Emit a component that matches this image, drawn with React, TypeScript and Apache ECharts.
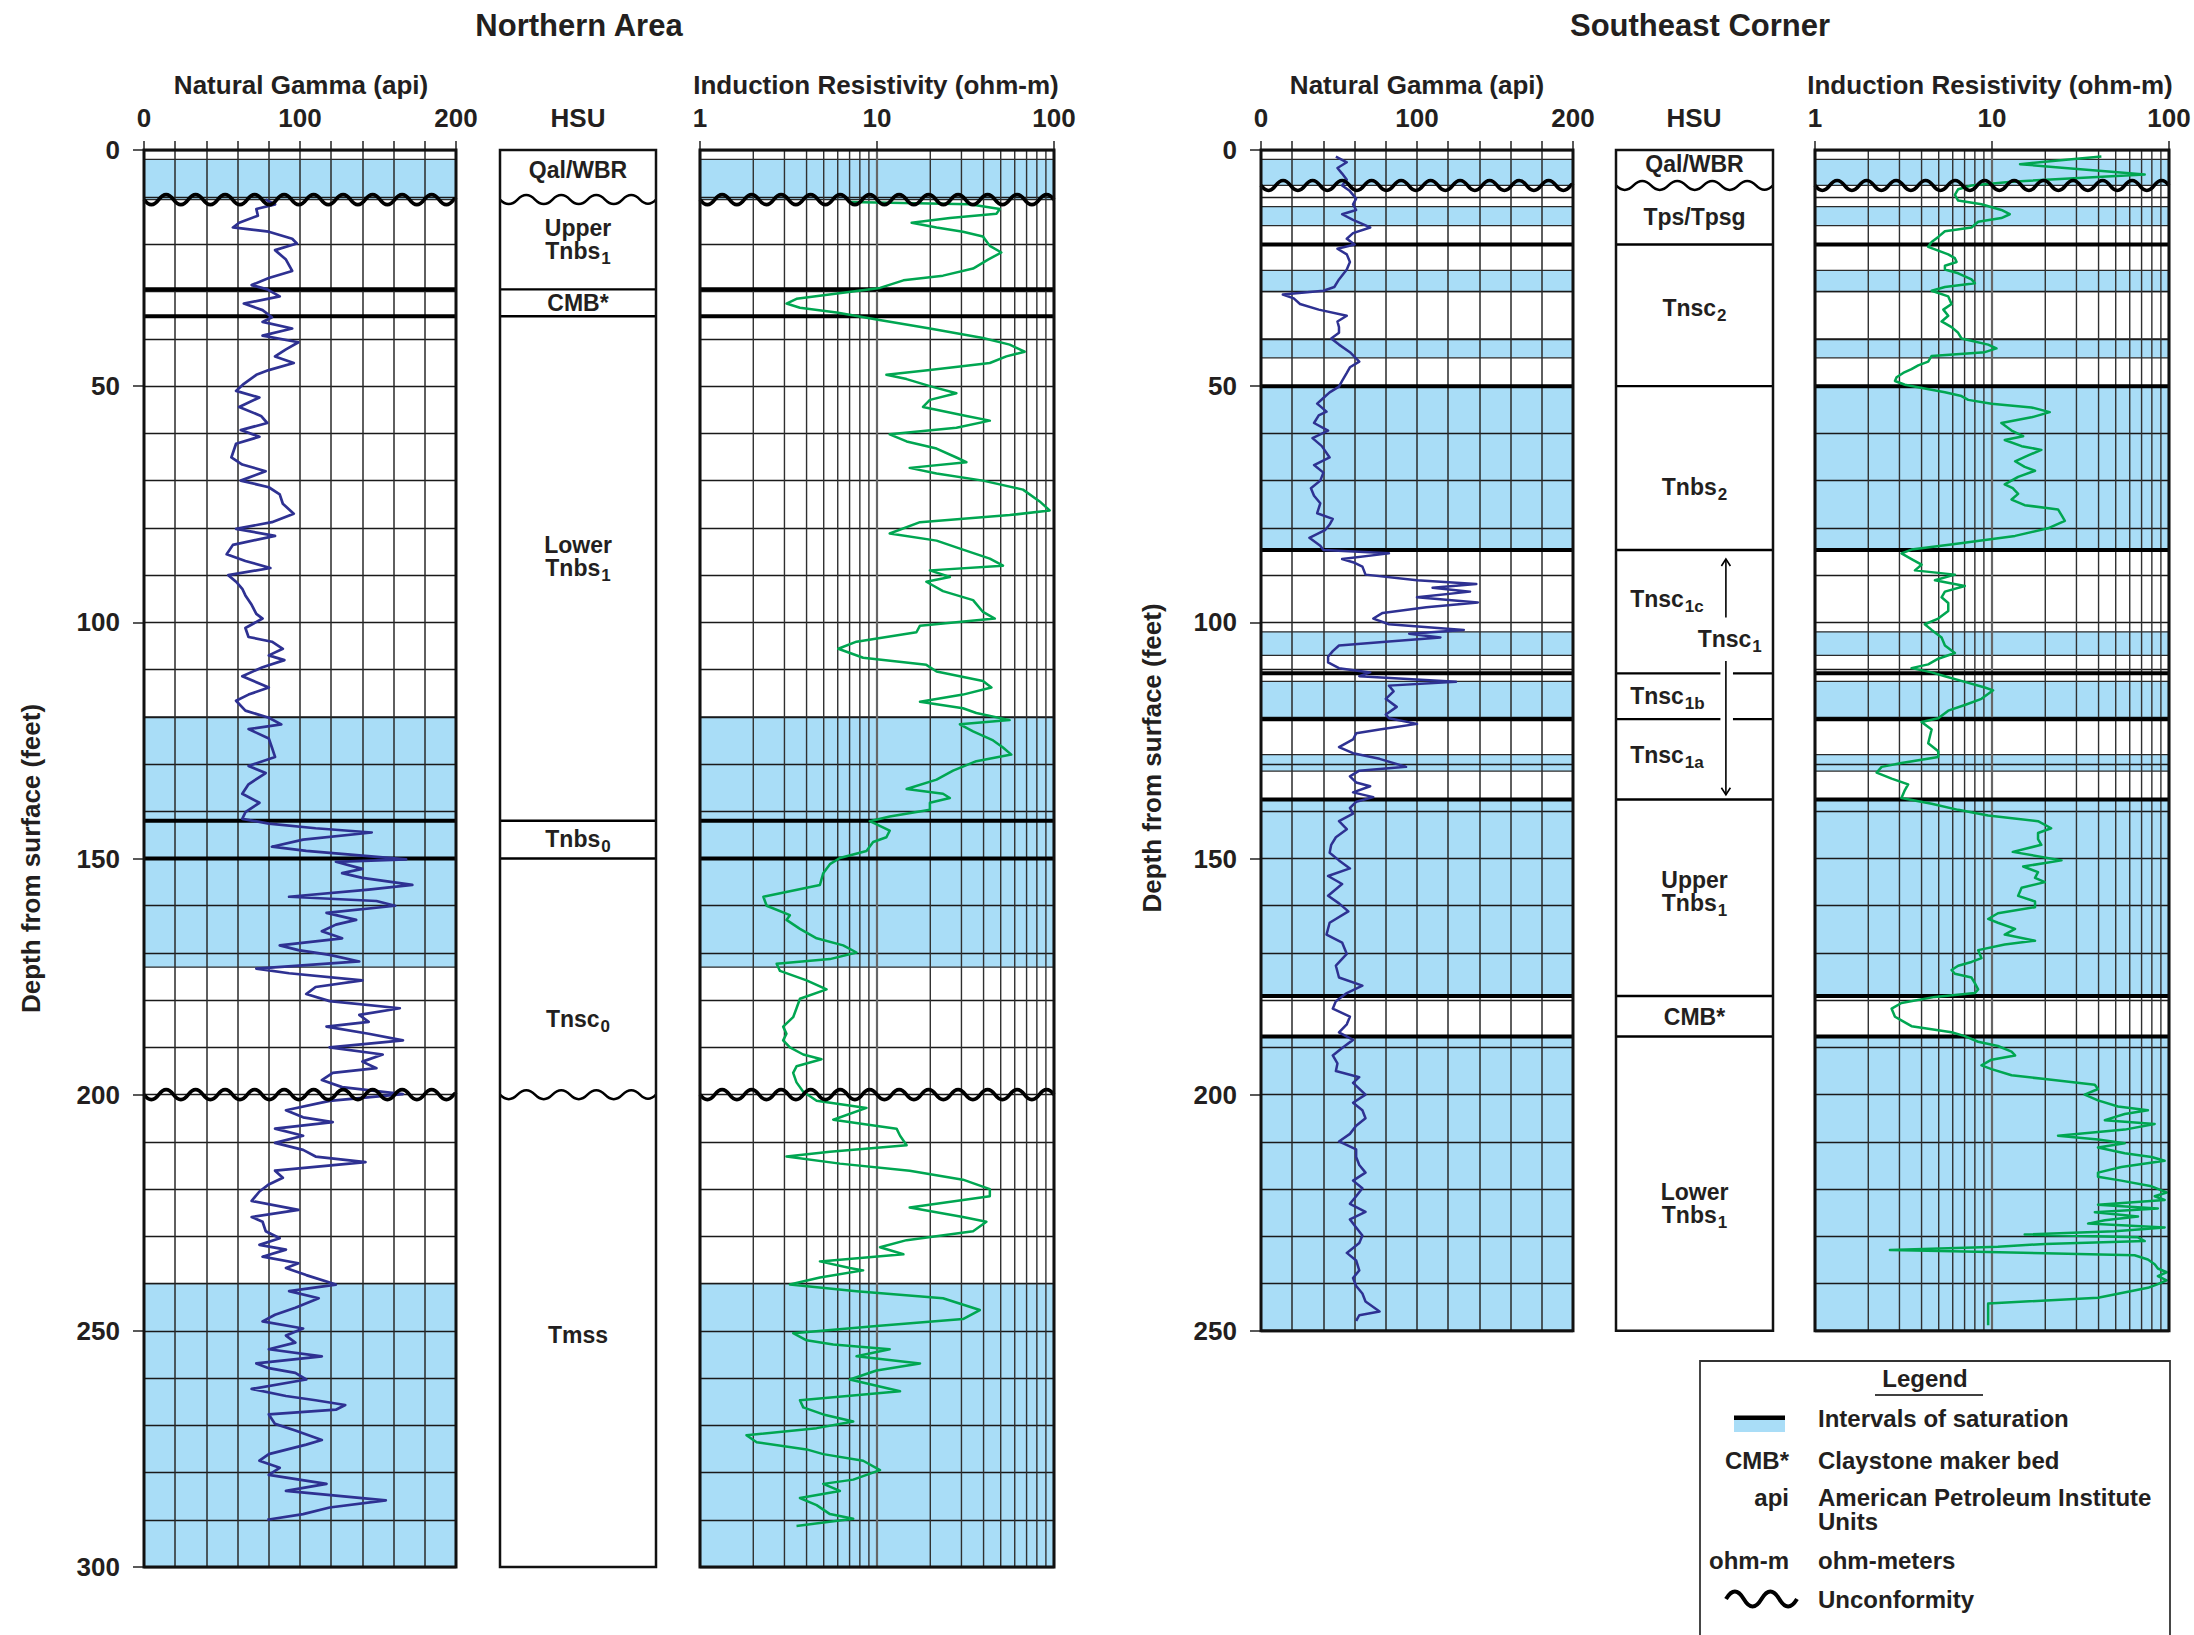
import React, { useEffect, useRef } from 'react';
import * as echarts from 'echarts';

const FONT = '"Liberation Sans", Arial, Helvetica, sans-serif';
const INK = '#231f20';
const SAT_BLUE = '#a9ddf7';
const GAMMA_BLUE = '#2e3192';
const RES_GREEN = '#00a651';

// ---------------- Northern Area ----------------
const naDepthMax = 300;
// [depth ft, natural gamma api]
const naGamma: number[][] = [
  [10.5,78],[11.5,84],[12.5,72],[13.9,73],[15.4,61],[16.4,57],[17.3,80],[18.8,95],[19.8,98],[21.2,84],[23.2,91],[25.6,95],[27.1,80],[28.6,69],[29.5,79],[31,87],[32.5,64],[33.9,76],[35.4,82],[36.4,76],[37.8,95],[39.3,76],[40.7,99],[42.2,91],[43.7,84],[45.1,96],[46.6,80],[47.6,72],[49.5,64],[51,59],[52.4,74],[54.4,61],[56.3,75],[57.8,79],[59.3,62],[60.7,74],[62.2,59],[65.1,56],[66.6,63],[68,78],[70,62],[71.4,80],[72.9,87],[74.9,89],[77,96],[78.8,82],[80.2,59],[81.7,84],[83.6,57],[85.6,53],[87,65],[88.5,81],[90,54],[91.4,59],[92.9,63],[94.3,65],[96.3,69],[98.2,72],[99.2,76],[101.2,65],[103.1,67],[104.1,82],[105.6,89],[107,80],[108,90],[109.5,76],[111.4,63],[113.8,80],[115.3,67],[116.6,59],[118.7,65],[120.2,80],[121.6,88],[122.6,67],[124.6,80],[126.5,82],[128.5,84],[130.4,67],[131.9,78],[134.3,67],[136.3,63],[138.2,74],[140.2,65],[141.6,63],[142.6,80],[143.6,110],[144.5,146],[146,102],[147.5,82],[148.4,104],[149.4,140],[150.2,168],
  [150.7,123],[152.2,140],[153.1,127],[154.1,140],[155.6,172],[156.6,144],[158.1,93],[159,149],[160,161],[161.5,117],[163,136],[164,123],[165.4,114],[166.9,127],[168.4,87],[169.4,99],[170.4,119],[171.8,138],[173.3,72],[174.3,93],[175.8,140],[177.2,110],[178.7,104],[180.2,119],[181.7,164],[183.1,138],[184.6,144],[185.6,117],[187.1,144],[188.5,166],[190,119],[191.5,153],[193,140],[194.4,149],[195.4,121],[196.9,114],[198.4,127],[199.9,166],[201.3,119],[203.3,91],[204.8,102],[205.8,121],[207.2,84],[208.7,102],[210.2,84],[211.7,102],[213.1,110],[214.3,142],[216.1,84],[217.6,89],[219,80],[220.5,74],[222.5,69],[224.4,99],[225.9,69],[226.9,76],[228.9,78],[230.4,87],[231.8,74],[232.8,91],[234.3,76],[235.7,99],[236.7,91],[238.2,104],[240.2,123],[241.6,93],[243.1,112],[245.1,97],[246.6,84],[248,76],[249.5,102],[251,91],[252.5,97],[253.9,80],[255.4,114],[256.9,72],[257.9,80],[258.9,97],[260.3,104],[262.3,69],[263.8,91],[264.7,110],[265.7,129],[266.7,123],[267.7,80],[269.7,84],[271.1,97],[273.1,114],[274.1,104],[276.1,80],[277.5,74],[279,87],[280.5,80],[282.4,117],[283.9,91],[284.9,123],[285.9,155],[287.4,119],[288.8,102],[290,79]
];
// [depth ft, induction resistivity ohm-m]
const naRes: number[][] = [
  [11,7.0],[11.5,33.4],[12.5,49.4],[13.5,47.3],[14.4,25.8],[15.4,15.7],[16.4,21.7],[17.3,30.6],[18.3,39.7],[19.3,41.5],[20.3,43.4],[21.7,50.4],[23.2,42.4],[25.1,34.9],[26.6,23.6],[27.6,14.1],[29.2,10.4],[30.5,5.66],[31.5,3.51],[32.5,3.08],[33.4,3.67],[34.4,5.91],[35.9,9.94],[37.8,19.9],[39.8,39.7],[41.2,56.2],[42.7,68.3],[43.7,53.8],[45.1,43.4],[46.6,19.9],[47.6,11.3],[48.5,14.7],[50,19.9],[51.5,28.1],[52.9,19.9],[54.4,18.2],[56.3,32],[57.3,43.4],[58.8,28.1],[60.2,11.8],[61.7,14.7],[63.2,21.7],[65.1,28.1],[66.1,32],[67.3,15.3],[68.5,21.7],[70,39.7],[71.9,66.8],[74.4,83],[76.3,94.5],[77.3,56.2],[78.8,17.5],[81.2,11.8],[82.7,21.7],[84.6,30.6],[86.5,43.4],[88,51.5],[89,19.9],[90.4,25.8],[91.4,19],[93.4,23.6],[95.3,34.9],[97.8,39.7],[99.2,46.3],[100.7,17.5],[102.1,16.7],[104.1,7.66],[105.6,6.04],[107.5,8.35],[109,19],[110.4,21.7],[112.4,39.7],[113.8,44.3],[115.3,30.6],[116.8,17.5],[118.2,30.6],[119.2,36.4],[120.7,56.2],[121.6,29.4],[123.1,34.9],[125,45.3],[126.5,51.5],[128,57.4],[129.4,36.4],[131.4,26.9],[133.3,21.7],[135.3,14.7],[136.3,23.6],[137.2,25.8],[138.2,19.9],[139.7,19.9],[141.1,11.8],[142.1,9.11],[144.1,11.8],[145.5,11.3],[146.5,9.51],[148.4,8.72],[149.9,6.17],
  [151.2,5.42],[153.1,4.97],[155.6,4.76],[158.1,2.28],[160,2.38],[162,3.22],[163,3.08],[164.9,3.67],[166.9,4.56],[168.4,6.44],[169.9,7.66],[171.3,5.42],[172.3,2.71],[173.8,2.83],[175.8,4.0],[177.7,5.19],[179.7,3.67],[181.7,3.51],[183.6,3.36],[185.6,2.95],[187.1,3.08],[188.5,2.95],[190,3.22],[191.5,3.83],[192.5,4.86],[194,3.51],[195.4,3.36],[197.4,3.51],[199.4,3.83],[201.3,4.56],[202.8,8.72],[205.3,5.66],[207.2,12.9],[208.7,13.5],[210.7,14.7],[212.1,5.42],[213.1,3.08],[214.6,6.17],[216.1,15.3],[218,30.6],[220,43.4],[221.5,43.4],[223.9,15.3],[225.9,30.6],[226.9,41.5],[228.9,34.9],[230.8,14.7],[232.3,10.4],[233.8,14.1],[235.3,4.76],[236.7,7.02],[237.2,8.35],[238.7,4.76],[240.2,3.22],[241.6,7.66],[243.1,23.6],[245.6,38.1],[247.5,30.6],[249,9.94],[250.5,3.36],[252,4.0],[252.9,5.66],[253.9,11.8],[255.4,7.66],[256.9,17.5],[258.4,9.94],[260.3,7.02],[262.8,13.5],[264.7,3.67],[266.2,3.83],[267.7,4.97],[269.2,7.34],[270.6,4.56],[272.1,1.83],[273.6,2.09],[275.1,4.0],[276.1,4.97],[277.5,8.35],[279.5,10.4],[281.5,7.34],[282.4,4.97],[283.9,6.17],[285.4,3.67],[286.9,4.56],[288.8,5.42],[289.8,7.34],[291.3,3.51]
];
const naSaturation: number[][] = [[2, 10.5], [120, 173], [240, 300]];
const naContacts: number[] = [29.5, 35.2, 142, 150];
const naUnconformities: number[] = [10.5, 200];
const naHsuNames: string[] = ['Qal/WBR', 'Upper\nTnbs_1', 'CMB*', 'Lower\nTnbs_1', 'Tnbs_0', 'Tnsc_0', 'Tmss'];
const naHsuDepths: number[] = [4.2, 19, 32.3, 86, 145.8, 184, 250.8];

// ---------------- Southeast Corner ----------------
const seDepthMax = 250;
const seGamma: number[][] = [
  [1.4,48],[2.6,55],[3.8,49],[5,52],[6.3,55],[7.5,52],[8.7,57],[10.3,61],[11.5,59],[12.7,61],[13.6,52],[14.8,59],[16.4,70],[17.6,59],[18.8,55],[20,60],[20.9,49],[22.1,55],[23.7,57],[25.3,55],[27.4,50],[29,47],[29.8,40],[30.6,14],[31.4,21],[32.6,25],[33.8,37],[35.1,55],[36.3,49],[37.5,50],[38.7,50],[39.9,45],[41.2,50],[42.8,57],[44.8,63],[46,57],[47.2,55],[48.9,52],[50.1,50],[51.3,44],[52.5,40],[53.7,36],[55.4,42],[56.2,37],[57.8,34],[59.4,43],[61,33],[62.7,39],[65.1,44],[66.7,34],[68.3,40],[70,38],[71.6,32],[73.2,34],[74.8,38],[76.9,36],[78.1,46],[79.3,44],[80.5,41],[82.1,31],[83.8,38],[84.7,40],[85.4,82],[86.6,52],[87.4,60],[88.2,65],[89.9,67],[91.1,100],[91.9,138],[92.7,110],[93.5,134],[94.7,100],[95.8,139],[96.8,106],[98,78],[99.2,72],[100.4,82],[101.6,130],[102.4,95],[103.2,115],[104.1,80],[104.9,50],[106.1,46],[107.3,43],[108.5,43],[109.7,50],[110.6,70],[111.4,63],[112.6,125],[113.4,82],[114.6,85],[116.2,80],[117.9,87],[119.5,80],[120.3,82],[121.5,100],[122.7,76],[123.5,61],
  [124.8,59],[126.4,50],[127.7,59],[128.9,76],[130.6,93],[131.4,63],[132.6,57],[133.9,61],[134.7,70],[136,59],[137,72],[138,61],[139.3,57],[140.5,59],[142.1,50],[143.8,55],[145.5,48],[147.1,45],[148.8,44],[150.4,50],[152.1,57],[153.7,43],[155.4,52],[157.9,43],[159.5,50],[161.2,56],[163.6,44],[166.1,42],[167.8,52],[170.2,55],[172.7,48],[175.2,50],[176.9,65],[178.5,55],[180.2,48],[181.8,46],[183.5,57],[185.1,55],[186.8,50],[188.4,59],[190.1,52],[191.7,46],[193.4,49],[195,48],[196.3,63],[197.5,59],[200,67],[201.7,59],[203.3,65],[205,67],[206.6,61],[208.3,57],[209.9,50],[211.6,61],[213.2,61],[214.9,63],[216.5,67],[218.2,59],[219.8,65],[221.5,61],[223.1,57],[224.8,67],[226.4,57],[228.1,61],[229.8,65],[231.4,63],[233.5,55],[235.1,61],[237.2,63],[238.8,59],[240.5,61],[242.1,65],[243.8,67],[245.9,76],[246.7,63],[247.9,61]
];
const seRes: number[][] = [
  [1.4,41.5],[2.2,23.6],[3,14.4],[3.8,25.8],[4.6,47.3],[5.2,72.9],[5.8,34.9],[6.7,12.9],[7.5,7.66],[8.3,6.44],[9.5,6.17],[10.7,6.44],[11.5,8.72],[12.7,11.3],[13.6,12.6],[14.4,11.3],[15.2,8.35],[16.4,7.66],[17.2,5.42],[18.4,4.97],[19.5,4.56],[20.5,4.36],[21.3,4.97],[22.1,5.66],[22.9,6.17],[23.7,6.31],[24.5,5.42],[25.3,5.42],[26.1,6.44],[27.4,7.66],[28.2,8.0],[29,5.42],[29.8,4.56],[31,5.66],[32.6,5.91],[33.8,5.31],[35.1,5.66],[36.3,5.19],[37.5,5.91],[38.7,6.44],[39.9,6.72],[41.2,9.51],[42,10.6],[42.8,9.11],[43.6,4.56],[44.8,4.36],[45.6,3.83],[46.4,3.51],[47.2,3.15],[48.1,2.89],[48.9,2.83],[49.7,3.22],[50.5,4.17],[51.3,5.42],[52.1,6.72],[52.9,7.34],[53.7,9.94],[54.5,16.7],[55.5,21.2],[56.6,16.7],[57.8,11.3],[59.4,12.9],[60.6,15],[61.4,11.8],[62.7,14.7],[63.5,19],[64.7,15.9],[65.9,13.5],[67.1,15.3],[67.9,17.5],[69.2,14.05],[70.8,11.8],[71.6,13.1],[72.8,14.05],[74,12.9],[75.2,15.3],[76.1,23.6],[77.3,24.7],[78.5,25.8],[80.1,20.7],[81.7,13.5],[83.4,6.17],[84.6,3.51],[85.4,3.08],[86.6,3.51],[87.8,4.0],[89,3.67],[89.9,6.17],[91.1,4.76],[92.3,7.02],[93.5,5.42],[94.7,5.19],[95.9,5.66],[97.6,5.66],[99.2,4.97],[100.4,4.17],[101.6,4.56],[103.2,5.19],[104.9,5.42],[106.5,6.17],[107.7,4.97],[108.9,4.36],[109.7,3.51],[110.6,4.56],[111.4,5.42],[112.6,7.02],[113.8,9.11],[114.4,10.15],[116.2,8.72],[117.5,7.02],[118.7,5.66],[120.3,4.97],[121.1,4.0],[122.7,4.56],[125.6,4.36],[127.3,4.97],[128.5,4.97],[129.8,3.08],[130.6,2.38],[131.8,2.23],[133.1,2.71],[134.3,3.36],[135.5,3.22],[137.2,3.08],[138.4,4.56],[139.7,6.44],[140.9,9.51],[142.1,18.2],[143.6,21.6],[144.6,18.2],[145.9,18.2],[147.1,19],[148.6,13.1],[150.4,24.7],[151.7,15],[152.9,18.2],[154.1,17.5],[155,19.9],[156.2,14.7],[157.9,14.05],[159.1,17.5],[160.3,17.5],[161.6,10.8],[162.8,9.51],[163.6,10.8],[164.9,13.5],[166.1,11.8],[167.4,17.5],[168.2,11.8],[169.4,8.35],[171.1,8.72],[171.9,7.66],[172.7,6.44],[173.6,5.91],[174.4,6.17],[175.2,7.66],[176.4,8],[177.7,8.35],[178.5,8],[179.3,4.76],[180.6,3.08],[181.8,2.71],[183.5,2.83],[184.7,3.22],[185.5,3.51],[186.8,5.91],[187.6,7.02],[188.8,8.35],[189.7,10.8],[190.9,12.9],[191.7,13.5],[192.6,9.94],[193.8,8.72],[194.6,9.94],[195.9,12.9],[196.7,19.9],[197.9,38.1],[198.8,39.7],[200,33.4],[201.2,39.7],[202.5,51.5],[203.3,76],[204.1,56.2],[205.4,43.4],[206.2,83],[207.4,56.2],[208.7,23.6],[209.5,39.7],[210.3,56.2],[211.2,39.7],[212.4,56.2],[213.2,79.7],[214,94.5],[215.3,53.8],[216.5,39.7],[217.4,39.7],[218.2,53.8],[219.4,79.7],[220.7,97],[221.5,83],[222.3,94.5],[223.3,39.7],[224.1,86.5],[224.9,38.1],[225.8,66.8],[226.6,43.4],[227.3,34.9],[228.1,94.5],[228.9,49.4],[229.6,15.3],[230.2,66.8],[231,72.9],[231.6,19.9],[232.2,10.8],[232.9,2.65],[233.2,7.02],[233.6,19.9],[234,63.9],[234.9,76],[235.9,83],[236.8,86.5],[237.6,97],[238.4,86.5],[239.3,97],[240.1,86.5],[240.9,76],[243,39.7],[244.2,9.51],[245.5,9.51],[248.8,9.51]
];
const seSaturation: number[][] = [[2, 7.5], [12, 16], [25.5, 30], [40, 44], [50, 84.7], [102, 107], [112.5, 120.5], [128, 131.5], [137.5, 179.1], [187.7, 250]];
const seContacts: number[] = [20, 50, 84.7, 110.8, 120.5, 137.5, 179.1, 187.7];
const seContactBroken: boolean[] = [false, false, false, true, true, false, false, false];
const seUnconformities: number[] = [7.5];
const seHsuNames: string[] = ['Qal/WBR', 'Tps/Tpsg', 'Tnsc_2', 'Tnbs_2', 'Tnsc_1c', 'Tnsc_1', 'Tnsc_1b', 'Tnsc_1a', 'Upper\nTnbs_1', 'CMB*', 'Lower\nTnbs_1'];
const seHsuDepths: number[] = [3, 14.2, 33.5, 71.4, 95, 103.6, 115.5, 128, 157, 183.6, 223];
// Tnsc1 arrow: [x (column fraction), from depth, to depth, head(-1 top / 1 bottom)]
const seArrowSegments: number[][] = [[0.70, 86.6, 99.0, -1], [0.70, 108.2, 136.5, 1]];

// ---------------- axis ticks ----------------
const gammaTickLabels: number[] = [0, 100, 200];
const resMinorLines: number[] = [2, 3, 4, 5, 6, 7, 8, 9, 20, 30, 40, 50, 60, 70, 80, 90];
const depthLabelStep = 50;

// ---------------- layout ----------------
const TOP = 150;
const PX_PER_FT = 1417 / 300;
const LAYOUT = {
  naGamma: { left: 144, width: 312 },
  naHsu: { left: 500, width: 156 },
  naRes: { left: 700, width: 354 },
  seGamma: { left: 1261, width: 312 },
  seHsu: { left: 1616, width: 157 },
  seRes: { left: 1815, width: 354 },
};
const naHsuAnchor = [0.5, 0.5, 0.5, 0.5, 0.5, 0.5, 0.5];
const naHsuAlign = ['center', 'center', 'center', 'center', 'center', 'center', 'center'];
const seHsuAnchor = [0.5, 0.5, 0.5, 0.5, 0.09, 0.52, 0.09, 0.09, 0.5, 0.5, 0.5];
const seHsuAlign = ['center', 'center', 'center', 'center', 'left', 'left', 'left', 'left', 'center', 'center', 'center'];
const HSU_GAP: number[] = [0.665, 0.745];

const LEGEND_WAVE = 'M0 0 Q8.9 -15 17.75 0 T35.5 0 T53.25 0 T71 0';
echarts.graphic.registerShape('legendWave', echarts.graphic.extendPath(LEGEND_WAVE, {}));

const HSU_RICH: any = {
  n: { font: `bold 23px ${FONT}`, fill: INK, lineHeight: 23 },
  s: { font: `bold 17px ${FONT}`, fill: INK, lineHeight: 10, padding: [15, 0, 0, 1] },
};

function toRich(s: string) {
  return s.split('\n').map((line) => {
    const m = line.match(/^(.*?)_(\w+)$/);
    return m ? `{n|${m[1]}}{s|${m[2]}}` : `{n|${line}}`;
  }).join('\n');
}

const labelFont = { fontSize: 26, fontWeight: 'bold', fontFamily: FONT, color: INK };

function gammaX(gi: number) {
  return {
    gridIndex: gi, type: 'value', position: 'top', min: 0, max: 200, interval: 20, z: 3,
    axisLine: { show: false },
    axisTick: { show: true, length: 9, lineStyle: { color: '#222', width: 1.5 } },
    axisLabel: { ...labelFont, margin: 19, formatter: (v: number) => (gammaTickLabels.includes(v) ? String(v) : '') },
    splitLine: { show: true, lineStyle: { color: '#2a2a2a', width: 1.5 } },
  };
}
function resX(gi: number) {
  return {
    gridIndex: gi, type: 'log', logBase: 10, position: 'top', min: 1, max: 100, z: 3,
    axisLine: { show: false },
    axisTick: { show: true, length: 9, lineStyle: { color: '#222', width: 1.5 } },
    axisLabel: { ...labelFont, margin: 19, formatter: (v: number) => String(Math.round(v)) },
    splitLine: { show: true, lineStyle: { color: '#666', width: 2.2 } },
  };
}
function hsuX(gi: number) {
  return { gridIndex: gi, type: 'value', min: 0, max: 1, show: false };
}
function depthY(gi: number, max: number, grid: boolean) {
  return {
    gridIndex: gi, type: 'value', inverse: true, min: 0, max, interval: 10, position: 'left', z: 3,
    show: true,
    axisLine: { show: false }, axisTick: { show: false }, axisLabel: { show: false },
    splitLine: { show: grid, lineStyle: { color: '#1a1a1a', width: 1.4 } },
  };
}
function depthLabelY(gi: number, max: number) {
  return {
    gridIndex: gi, type: 'value', inverse: true, min: 0, max, interval: depthLabelStep, position: 'left', z: 3,
    axisLine: { show: false },
    axisTick: { show: true, length: 11, lineStyle: { color: '#222', width: 1.5 } },
    axisLabel: { ...labelFont, margin: 24 },
    splitLine: { show: false },
  };
}

function hLine(x1: number, x2: number, y: number, stroke: string, lw: number) {
  return { type: 'line', shape: { x1, y1: y, x2, y2: y }, style: { stroke, lineWidth: lw } };
}

function satSeries(ax: number, xMid: number, intervals: number[][]) {
  return {
    type: 'custom', xAxisIndex: ax, yAxisIndex: ax, z: 1, silent: true,
    data: intervals.map(([a, b]) => [xMid, a, b]), encode: { x: 0, y: 1 },
    renderItem: (params: any, api: any) => {
      const cs = params.coordSys;
      const y0 = api.coord([xMid, api.value(1)])[1];
      const y1 = api.coord([xMid, api.value(2)])[1];
      return {
        type: 'group', children: [
          { type: 'rect', shape: { x: cs.x, y: y0, width: cs.width, height: y1 - y0 }, style: { fill: SAT_BLUE } },
          hLine(cs.x, cs.x + cs.width, y0, '#2a2a2a', 1.3),
          hLine(cs.x, cs.x + cs.width, y1, '#2a2a2a', 1.3),
        ],
      };
    },
  };
}
function minorSeries(ax: number, max: number) {
  return {
    type: 'custom', xAxisIndex: ax, yAxisIndex: ax, z: 3, silent: true,
    data: resMinorLines.map((v) => [v, 0]), encode: { x: 0, y: 1 },
    renderItem: (params: any, api: any) => {
      const p0 = api.coord([api.value(0), 0]);
      const p1 = api.coord([api.value(0), max]);
      return { type: 'line', shape: { x1: p0[0], y1: p0[1], x2: p1[0], y2: p1[1] }, style: { stroke: '#303030', lineWidth: 1.4 } };
    },
  };
}
function contactSeries(ax: number, xMid: number, depths: number[], lw: number, broken?: boolean[]) {
  return {
    type: 'custom', xAxisIndex: ax, yAxisIndex: ax, z: 4, silent: true,
    data: depths.map((d, i) => [xMid, d, broken && broken[i] ? 1 : 0]), encode: { x: 0, y: 1 },
    renderItem: (params: any, api: any) => {
      const cs = params.coordSys;
      const y = api.coord([xMid, api.value(1)])[1];
      if (api.value(2)) {
        const g0 = api.coord([HSU_GAP[0], 0])[0];
        const g1 = api.coord([HSU_GAP[1], 0])[0];
        return { type: 'group', children: [hLine(cs.x, g0, y, '#000', lw), hLine(g1, cs.x + cs.width, y, '#000', lw)] };
      }
      return hLine(cs.x, cs.x + cs.width, y, '#000', lw);
    },
  };
}
function waveSeries(ax: number, xMid: number, depths: number[], amp: number, period: number, lw: number) {
  return {
    type: 'custom', xAxisIndex: ax, yAxisIndex: ax, z: 6, silent: true,
    data: depths.map((d) => [xMid, d]), encode: { x: 0, y: 1 },
    renderItem: (params: any, api: any) => {
      const cs = params.coordSys;
      const y = api.coord([xMid, api.value(1)])[1];
      const half = period / 2;
      const x1 = cs.x + cs.width;
      let x = cs.x;
      let k = 0;
      let d = `M${x} ${y}`;
      while (x < x1 - 0.5) {
        const nx = Math.min(x + half, x1);
        const off = (k % 2 === 0 ? 2 : -2) * amp * ((nx - x) / half);
        d += ` Q${(x + nx) / 2} ${y + off} ${nx} ${y}`;
        x = nx;
        k++;
      }
      return { type: 'path', shape: { pathData: d }, style: { fill: 'none', stroke: '#000', lineWidth: lw, lineJoin: 'round' } };
    },
  };
}
function frameSeries(ax: number, xMid: number, lw: number) {
  return {
    type: 'custom', xAxisIndex: ax, yAxisIndex: ax, z: 7, silent: true,
    data: [[xMid, 0]], encode: { x: 0, y: 1 },
    renderItem: (params: any) => {
      const cs = params.coordSys;
      return { type: 'rect', shape: { x: cs.x, y: cs.y, width: cs.width, height: cs.height }, style: { fill: 'none', stroke: '#111', lineWidth: lw } };
    },
  };
}
function traceSeries(ax: number, rows: number[][], color: string, width: number) {
  return {
    type: 'line', xAxisIndex: ax, yAxisIndex: ax, z: 5, silent: true,
    data: rows.map(([d, v]) => [v, d]), showSymbol: false, symbol: 'none',
    lineStyle: { color, width, join: 'round' },
  };
}
function hsuLabelSeries(ax: number, names: string[], depths: number[], anchors: number[], aligns: string[]) {
  return {
    type: 'custom', xAxisIndex: ax, yAxisIndex: ax, z: 8, silent: true,
    data: depths.map((d, i) => [anchors[i], d]), encode: { x: 0, y: 1 },
    renderItem: (params: any, api: any) => {
      const i = params.dataIndex;
      const p = api.coord([api.value(0), api.value(1)]);
      return {
        type: 'text', x: p[0], y: p[1],
        style: { text: toRich(names[i]), rich: HSU_RICH, align: aligns[i], verticalAlign: 'middle', fill: INK, font: `bold 23px ${FONT}` },
      };
    },
  };
}
function arrowSeries(ax: number, segs: number[][]) {
  return {
    type: 'custom', xAxisIndex: ax, yAxisIndex: ax, z: 8, silent: true,
    data: segs, encode: { x: 0, y: 1 },
    renderItem: (params: any, api: any) => {
      const x = api.value(0);
      const pa = api.coord([x, api.value(1)]);
      const pb = api.coord([x, api.value(2)]);
      const top = api.value(3) < 0;
      const tip = top ? pa : pb;
      const dir = top ? 1 : -1;
      return {
        type: 'group', children: [
          { type: 'line', shape: { x1: pa[0], y1: pa[1], x2: pb[0], y2: pb[1] }, style: { stroke: '#000', lineWidth: 1.6 } },
          { type: 'polyline', shape: { points: [[tip[0] - 4.5, tip[1] + dir * 7], [tip[0], tip[1]], [tip[0] + 4.5, tip[1] + dir * 7]] }, style: { stroke: '#000', fill: 'none', lineWidth: 1.6 } },
        ],
      };
    },
  };
}

function txt(x: number, y: number, text: string, size: number, align = 'center', extra: any = {}) {
  return {
    type: 'text', x, y, silent: true, ...extra,
    style: { text, fill: INK, font: `bold ${size}px ${FONT}`, align, verticalAlign: 'middle' },
  };
}

function buildOption() {
  const naH = naDepthMax * PX_PER_FT;
  const seH = seDepthMax * PX_PER_FT;
  const grid = [
    { left: LAYOUT.naGamma.left, top: TOP, width: LAYOUT.naGamma.width, height: naH },
    { left: LAYOUT.naHsu.left, top: TOP, width: LAYOUT.naHsu.width, height: naH },
    { left: LAYOUT.naRes.left, top: TOP, width: LAYOUT.naRes.width, height: naH },
    { left: LAYOUT.seGamma.left, top: TOP, width: LAYOUT.seGamma.width, height: seH },
    { left: LAYOUT.seHsu.left, top: TOP, width: LAYOUT.seHsu.width, height: seH },
    { left: LAYOUT.seRes.left, top: TOP, width: LAYOUT.seRes.width, height: seH },
  ].map((g) => ({ ...g, containLabel: false, outerBoundsMode: 'none' }));

  const xAxis = [gammaX(0), hsuX(1), resX(2), gammaX(3), hsuX(4), resX(5)];
  const yAxis: any[] = [
    depthY(0, naDepthMax, true), depthY(1, naDepthMax, false), depthY(2, naDepthMax, true),
    depthY(3, seDepthMax, true), depthY(4, seDepthMax, false), depthY(5, seDepthMax, true),
    depthLabelY(0, naDepthMax), depthLabelY(3, seDepthMax),
  ];
  yAxis[1].show = false;
  yAxis[4].show = false;

  const series: any[] = [
    // Northern gamma
    satSeries(0, 100, naSaturation), contactSeries(0, 100, naContacts, 4), waveSeries(0, 100, naUnconformities, 5, 29.5, 3.6), frameSeries(0, 100, 3), traceSeries(0, naGamma, GAMMA_BLUE, 2.7),
    // Northern HSU
    contactSeries(1, 0.5, naContacts, 2.4), waveSeries(1, 0.5, naUnconformities, 4.5, 35, 2.5), frameSeries(1, 0.5, 2.5), hsuLabelSeries(1, naHsuNames, naHsuDepths, naHsuAnchor, naHsuAlign),
    // Northern resistivity
    satSeries(2, 10, naSaturation), minorSeries(2, naDepthMax), contactSeries(2, 10, naContacts, 4), waveSeries(2, 10, naUnconformities, 5, 29.5, 3.6), frameSeries(2, 10, 3), traceSeries(2, naRes, RES_GREEN, 2.5),
    // SE gamma
    satSeries(3, 100, seSaturation), contactSeries(3, 100, seContacts, 4), waveSeries(3, 100, seUnconformities, 5, 29.5, 3.6), frameSeries(3, 100, 3), traceSeries(3, seGamma, GAMMA_BLUE, 2.5),
    // SE HSU
    contactSeries(4, 0.5, seContacts, 2.4, seContactBroken), waveSeries(4, 0.5, seUnconformities, 4.5, 35, 2.5), frameSeries(4, 0.5, 2.5), hsuLabelSeries(4, seHsuNames, seHsuDepths, seHsuAnchor, seHsuAlign), arrowSeries(4, seArrowSegments),
    // SE resistivity
    satSeries(5, 10, seSaturation), minorSeries(5, seDepthMax), contactSeries(5, 10, seContacts, 4), waveSeries(5, 10, seUnconformities, 5, 29.5, 3.6), frameSeries(5, 10, 3), traceSeries(5, seRes, RES_GREEN, 2.5),
  ];

  const naCenterY = TOP + naH / 2;
  const graphic: any[] = [
    txt(579, 25, 'Northern Area', 31),
    txt(1700, 25, 'Southeast Corner', 31),
    txt(301, 85, 'Natural Gamma (api)', 26),
    txt(876, 85, 'Induction Resistivity (ohm-m)', 26),
    txt(1417, 85, 'Natural Gamma (api)', 26),
    txt(1990, 85, 'Induction Resistivity (ohm-m)', 26),
    txt(578, 118, 'HSU', 26),
    txt(1694, 118, 'HSU', 26),
    txt(31, naCenterY, 'Depth from surface (feet)', 26, 'center', { rotation: Math.PI / 2 }),
    txt(1152, 758, 'Depth from surface (feet)', 26, 'center', { rotation: Math.PI / 2 }),
    // legend
    { type: 'rect', silent: true, shape: { x: 1700, y: 1361, width: 470, height: 320 }, style: { fill: 'none', stroke: '#333', lineWidth: 1.8 } },
    txt(1925, 1378, 'Legend', 24),
    { type: 'line', silent: true, shape: { x1: 1875, y1: 1395, x2: 1983, y2: 1395 }, style: { stroke: '#000', lineWidth: 1.5 } },
    { type: 'rect', silent: true, shape: { x: 1734, y: 1420, width: 51, height: 12 }, style: { fill: SAT_BLUE } },
    { type: 'rect', silent: true, shape: { x: 1734, y: 1415.5, width: 51, height: 4.5 }, style: { fill: '#000' } },
    txt(1818, 1418, 'Intervals of saturation', 24, 'left'),
    txt(1789, 1460, 'CMB*', 24, 'right'),
    txt(1818, 1460, 'Claystone maker bed', 24, 'left'),
    txt(1789, 1497, 'api', 24, 'right'),
    txt(1818, 1497, 'American Petroleum Institute', 24, 'left'),
    txt(1818, 1521, 'Units', 24, 'left'),
    txt(1789, 1560, 'ohm-m', 24, 'right'),
    txt(1818, 1560, 'ohm-meters', 24, 'left'),
    { type: 'legendWave', silent: true, x: 1726, y: 1599, style: { fill: 'none', stroke: '#000', lineWidth: 4 } },
    txt(1818, 1599, 'Unconformity', 24, 'left'),
  ];

  return { animation: false, backgroundColor: '#fff', grid, xAxis, yAxis, series, graphic };
}

export default function App() {
  const ref = useRef<HTMLDivElement>(null);
  useEffect(() => {
    document.body.style.margin = '0';
    const chart = echarts.init(ref.current as HTMLDivElement, null, { renderer: 'svg', width: 2194, height: 1635 });
    chart.setOption(buildOption() as any);
    return () => chart.dispose();
  }, []);
  return <div ref={ref} style={{ position: 'absolute', left: 0, top: 0, width: 2194, height: 1635, background: '#fff' }} />;
}
